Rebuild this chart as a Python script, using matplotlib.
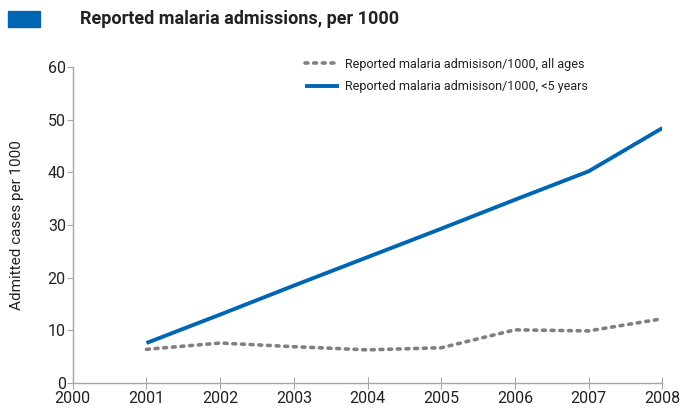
import matplotlib.pyplot as plt
from matplotlib.patches import Rectangle

plt.rcParams['font.family'] = ['Roboto', 'DejaVu Sans']

# data
years = [2001, 2002, 2003, 2004, 2005, 2006, 2007, 2008]
all_ages = [6.4, 7.6, 6.9, 6.3, 6.7, 10.1, 9.9, 12.2]
under5 = [7.6, 13.0, 18.5, 23.9, 29.3, 34.8, 40.2, 48.4]
x_ticks = [2000, 2001, 2002, 2003, 2004, 2005, 2006, 2007, 2008]
y_ticks = [0, 10, 20, 30, 40, 50, 60]

blue = '#0066b3'
grey = '#808080'
axis_grey = '#a6a6a6'
text_col = '#222222'

fig = plt.figure(figsize=(6.8, 4.11), dpi=100)
ax = fig.add_axes([0.107, 0.068, 0.867, 0.769])

ax.plot(years, all_ages, color=grey, lw=2.6, linestyle=(0, (0.8, 1.6)),
        dash_capstyle='round', label='Reported malaria admisison/1000, all ages')
ax.plot(years, under5, color=blue, lw=2.8, solid_capstyle='butt',
        label='Reported malaria admisison/1000, <5 years')

ax.set_xlim(2000, 2008)
ax.set_ylim(0, 60)
ax.set_xticks(x_ticks)
ax.set_yticks(y_ticks)
ax.tick_params(axis='x', direction='inout', length=8, color=axis_grey,
               labelsize=11.5, labelcolor=text_col, pad=2)
ax.tick_params(axis='y', direction='out', length=4, color=axis_grey,
               labelsize=11.5, labelcolor=text_col, pad=1)
for side in ['top', 'right']:
    ax.spines[side].set_visible(False)
for side in ['left', 'bottom']:
    ax.spines[side].set_color(axis_grey)
    ax.spines[side].set_linewidth(1)
ax.spines['bottom'].set_zorder(0)

ax.set_ylabel('Admitted cases per 1000', fontsize=11, color=text_col)
ax.yaxis.set_label_coords(-0.082, 0.5)

leg = ax.legend(loc='upper left', bbox_to_anchor=(0.394, 1.03), frameon=False,
                fontsize=9, handlelength=2.7, handletextpad=0.5,
                labelspacing=0.75, borderpad=0, borderaxespad=0,
                labelcolor=text_col)

# title block
fig.patches.append(Rectangle((8 / 680, 1 - 27 / 411), 32 / 680, 16 / 411,
                             transform=fig.transFigure, color=blue))
fig.text(80 / 680, 1 - 19 / 411, 'Reported malaria admissions, per 1000',
         fontsize=13, fontweight='bold', color=text_col, va='center', ha='left')

fig.savefig('out.png', dpi=100)
